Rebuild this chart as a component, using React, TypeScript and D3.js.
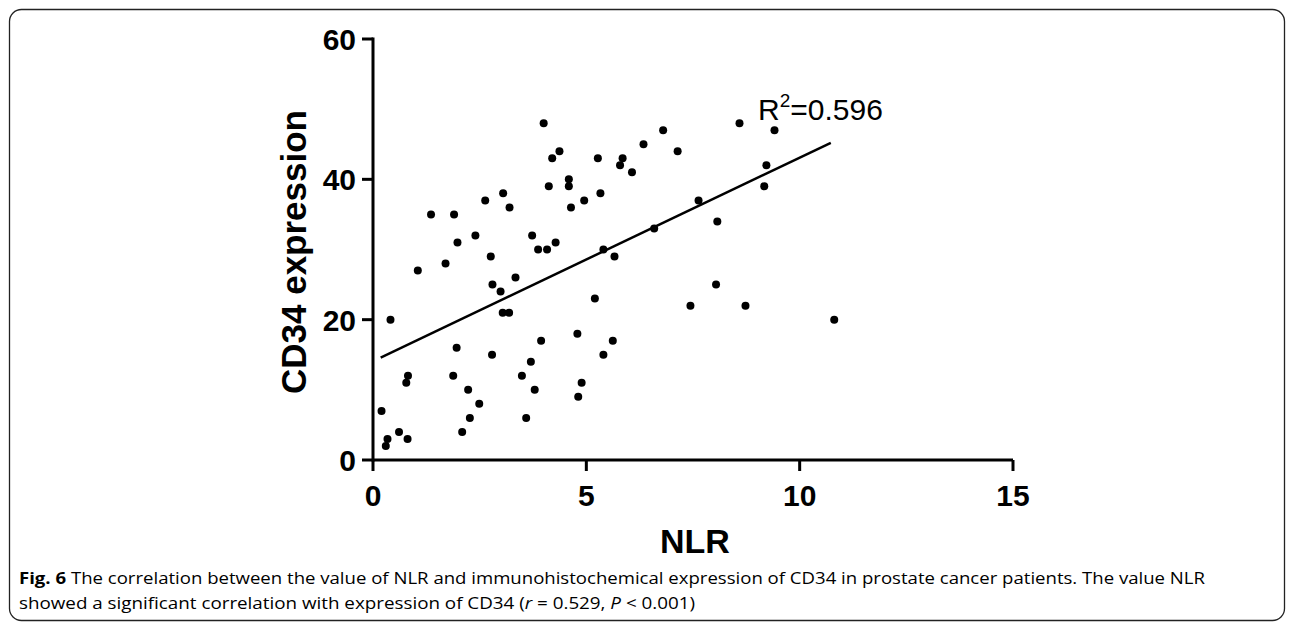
import React from "react";
import * as d3 from "d3";

const nlr = [0.2,0.3,0.34,0.41,0.61,0.78,0.81,0.82,1.05,1.36,1.7,1.88,1.9,1.96,1.98,2.09,2.23,2.27,2.4,2.49,2.63,2.76,2.79,2.8,2.99,3.04,3.05,3.19,3.2,3.34,3.49,3.59,3.7,3.73,3.79,3.87,3.94,4.0,4.08,4.12,4.2,4.28,4.37,4.59,4.59,4.64,4.79,4.81,4.89,4.95,5.2,5.27,5.33,5.4,5.4,5.62,5.66,5.79,5.85,6.07,6.34,6.59,6.8,7.14,7.44,7.63,8.04,8.07,8.59,8.73,9.17,9.22,9.41,10.81];
const cd34 = [7,2,3,20,4,11,3,12,27,35,28,12,35,16,31,4,10,6,32,8,37,29,15,25,24,21,38,21,36,26,12,6,14,32,10,30,17,48,30,39,43,31,44,40,39,36,18,9,11,37,23,43,38,30,15,17,29,42,43,41,45,33,47,44,22,37,25,34,48,22,39,42,47,20];
const fitX = [0.18, 10.73];
const fitY = [14.6, 45.2];
const xTicks = [0, 5, 10, 15];
const yTicks = [0, 20, 40, 60];
const xLabel = "NLR";
const yLabel = "CD34 expression";

export default function App() {
  const W = 1293, H = 624;
  const x = d3.scaleLinear().domain([0, 15]).range([373, 1013]);
  const y = d3.scaleLinear().domain([0, 60]).range([460, 39]);
  const line = d3.line<number>().x((_, i) => x(fitX[i])).y((_, i) => y(fitY[i]));
  const font = "'Liberation Sans', Arial, sans-serif";
  return (
    <svg width={W} height={H} style={{ position: "absolute", left: 0, top: 0, background: "#fff" }}>
      <rect x={9.5} y={9.5} width={1275} height={611} rx={12} fill="none" stroke="#222" strokeWidth={1.3} />
      {/* axes */}
      <line x1={x(0)} x2={x(15)} y1={y(0)} y2={y(0)} stroke="#000" strokeWidth={3} />
      <line x1={x(0)} x2={x(0)} y1={y(0) + 1.5} y2={y(60) - 1.5} stroke="#000" strokeWidth={3} />
      {xTicks.map((t) => (
        <g key={"x" + t}>
          <line x1={x(t)} x2={x(t)} y1={y(0)} y2={y(0) + 11} stroke="#000" strokeWidth={3} />
          <text x={x(t)} y={506} textAnchor="middle" fontFamily={font} fontWeight="bold" fontSize={30}>{t}</text>
        </g>
      ))}
      {yTicks.map((t) => (
        <g key={"y" + t}>
          <line x1={x(0) - 11} x2={x(0)} y1={y(t)} y2={y(t)} stroke="#000" strokeWidth={3} />
          <text x={356} y={y(t) + 11} textAnchor="end" fontFamily={font} fontWeight="bold" fontSize={30}>{t}</text>
        </g>
      ))}
      <text x={695} y={553} textAnchor="middle" fontFamily={font} fontWeight="bold" fontSize={34}>{xLabel}</text>
      <text transform="translate(306,252) rotate(-90)" textAnchor="middle" fontFamily={font} fontWeight="bold" fontSize={35}>{yLabel}</text>
      {/* fit line */}
      <path d={line(fitX) || ""} fill="none" stroke="#000" strokeWidth={2.5} />
      {/* points */}
      {nlr.map((v, i) => (
        <circle key={i} cx={x(v)} cy={y(cd34[i])} r={4} fill="#000" />
      ))}
      <text x={758} y={120} fontFamily={font} fontSize={30}>
        R<tspan dy={-13} fontSize={19}>2</tspan><tspan dy={13}>=0.596</tspan>
      </text>
      {/* caption */}
      <text x={19} y={584} fontFamily="'Open Sans', sans-serif" fontSize={16} textLength={1186} lengthAdjust="spacingAndGlyphs">
        <tspan fontWeight="bold">Fig. 6</tspan> The correlation between the value of NLR and immunohistochemical expression of CD34 in prostate cancer patients. The value NLR
      </text>
      <text x={19} y={609} fontFamily="'Open Sans', sans-serif" fontSize={16} textLength={676} lengthAdjust="spacingAndGlyphs">
        showed a significant correlation with expression of CD34 (<tspan fontStyle="italic">r</tspan> = 0.529, <tspan fontStyle="italic">P</tspan> &lt; 0.001)
      </text>
    </svg>
  );
}
